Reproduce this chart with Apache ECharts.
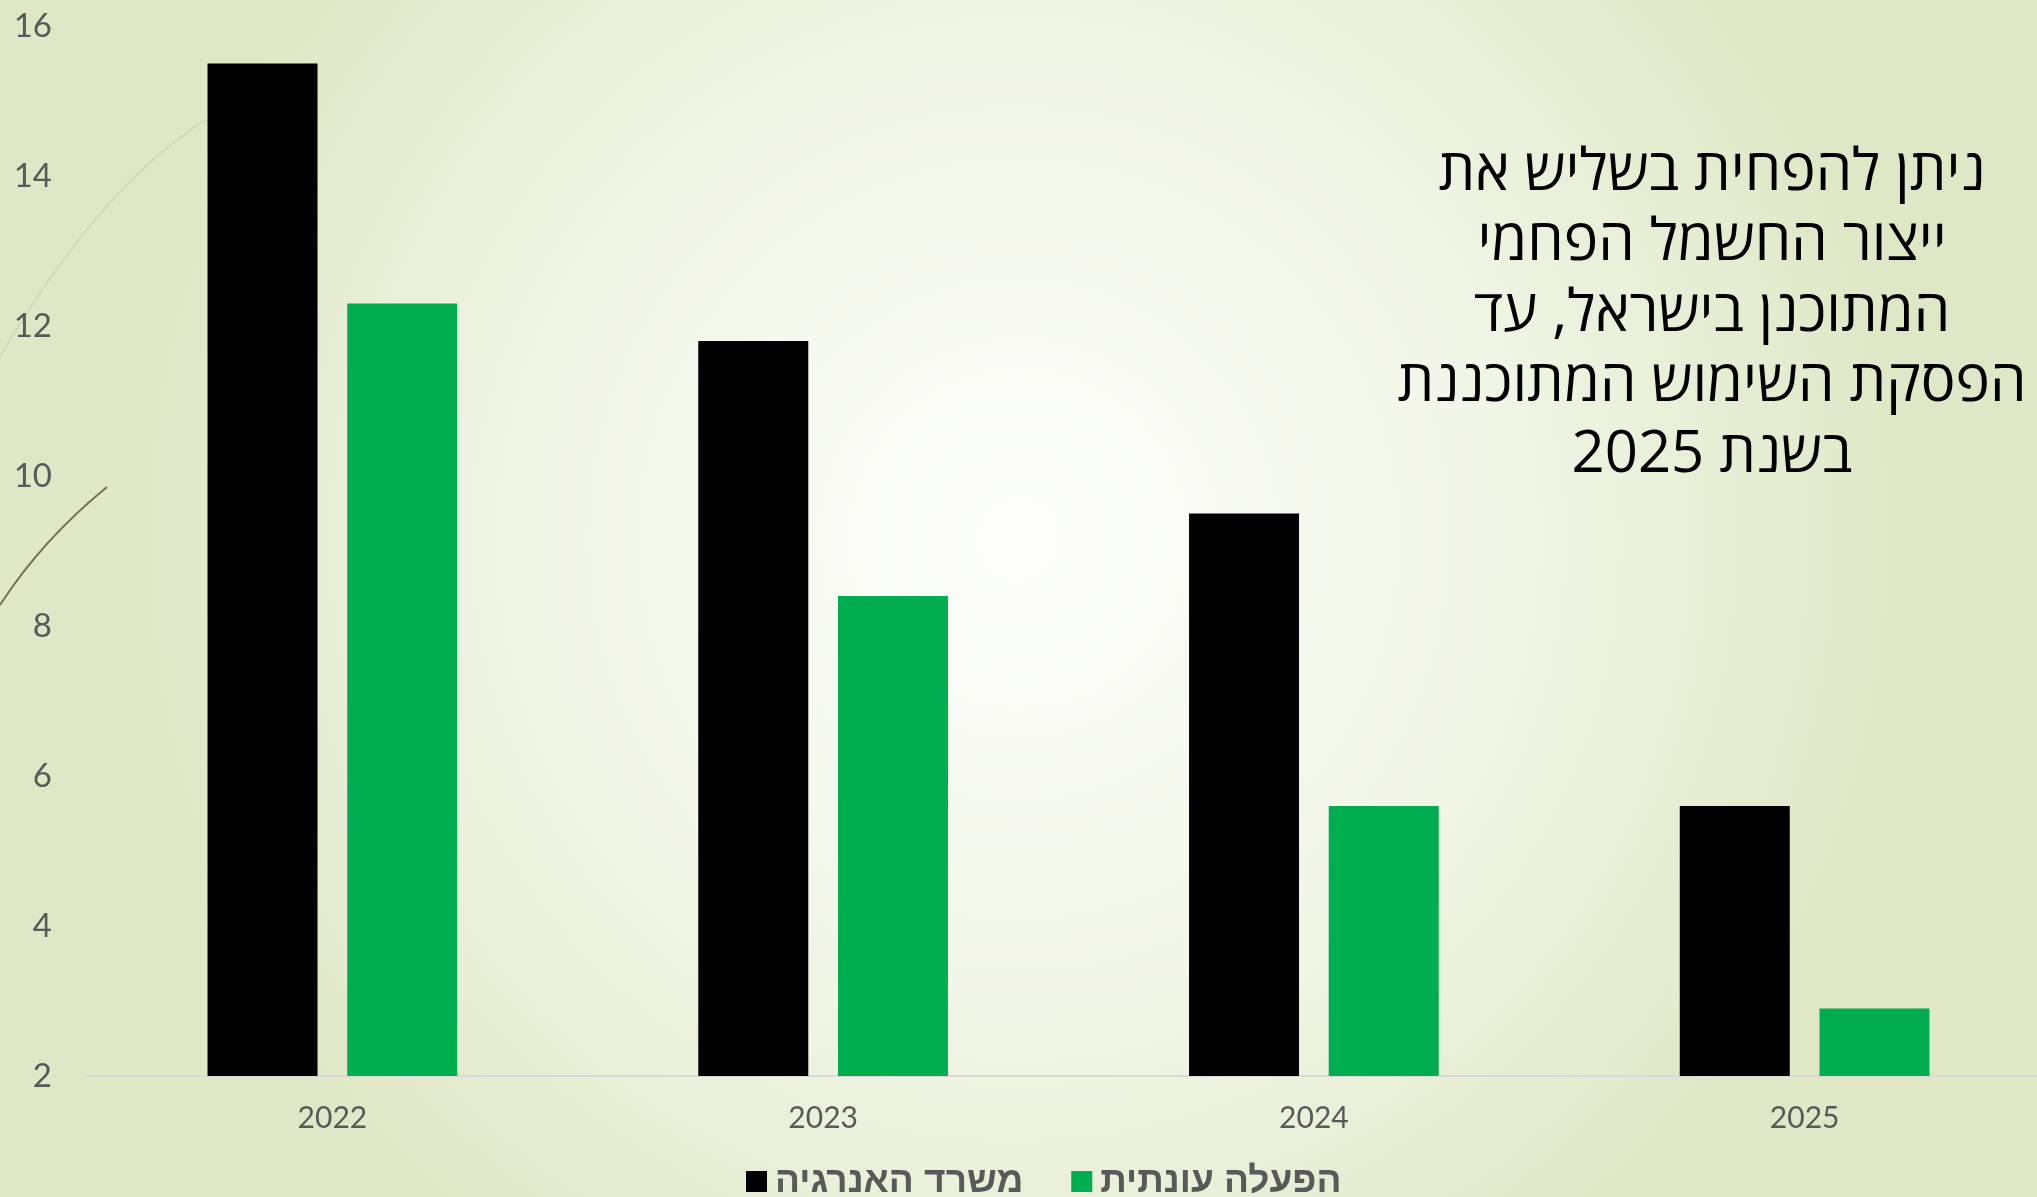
<!DOCTYPE html>
<html>
<head>
<meta charset="utf-8">
<script src="https://cdn.jsdelivr.net/npm/echarts@6/dist/echarts.min.js"></script>
<style>
html,body{margin:0;padding:0;background:#f1f4e6;}
#chart{width:2037px;height:1197px;}
</style>
</head>
<body>
<div id="chart"></div>
<script>
var categories = ['2022', '2023', '2024', '2025'];
var seriesNames = ['משרד האנרגיה', 'הפעלה עונתית'];
var energyMinistry = [15.5, 11.8, 9.5, 5.6];
var seasonalOperation = [12.3, 8.4, 5.6, 2.9];
var titleLines = ['ניתן להפחית בשליש את', 'ייצור החשמל הפחמי', 'המתוכנן בישראל, עד', 'הפסקת השימוש המתוכננת', 'בשנת 2025'];

var chart = echarts.init(document.getElementById('chart'));
chart.setOption({
  animation: false,
  backgroundColor: new echarts.graphic.RadialGradient(0.5, 0.45, 0.75, [
    {offset: 0, color: '#fdfefb'},
    {offset: 0.55, color: '#f1f5e6'},
    {offset: 1, color: '#dfe7c6'}
  ]),
  title: {
    text: titleLines.join('\n'),
    left: 1707,
    top: 133,
    textAlign: 'center',
    textStyle: {
      fontFamily: '"Open Sans", "DejaVu Sans", sans-serif',
      fontSize: 58,
      fontWeight: 'normal',
      color: '#000000',
      lineHeight: 70.5
    }
  },
  graphic: [
    {
      type: 'bezierCurve',
      shape: {x1: 0, y1: 357, x2: 205, y2: 120, cpx1: 97, cpy1: 190},
      style: {stroke: '#d3d8bd', lineWidth: 2, fill: null},
      silent: true, z: -1
    },
    {
      type: 'bezierCurve',
      shape: {x1: 0, y1: 605, x2: 107, y2: 487, cpx1: 42, cpy1: 540},
      style: {stroke: '#77704f', lineWidth: 2, fill: null},
      silent: true, z: -1
    }
  ],
  legend: {
    data: seriesNames,
    left: 741,
    top: 1158,
    itemWidth: 21,
    itemHeight: 21,
    itemGap: 48,
    icon: 'rect',
    textStyle: {
      fontFamily: '"Liberation Sans", Arial, sans-serif',
      fontSize: 37,
      fontWeight: 'bold',
      color: '#595959',
      padding: [0, 0, 0, 3]
    }
  },
  grid: {
    left: 87,
    top: 26,
    width: 1963,
    bottom: 121,
    containLabel: false,
    outerBoundsMode: 'none'
  },
  xAxis: {
    type: 'category',
    data: categories,
    axisLine: {lineStyle: {color: '#d9d9d9', width: 2}},
    axisTick: {show: false},
    axisLabel: {
      margin: 27,
      fontFamily: 'Lato, "Liberation Sans", sans-serif',
      fontSize: 30,
      color: '#595959'
    }
  },
  yAxis: {
    type: 'value',
    min: 2,
    max: 16,
    interval: 2,
    axisLine: {show: false},
    axisTick: {show: false},
    splitLine: {show: false},
    axisLabel: {
      margin: 35,
      fontFamily: 'Lato, "Liberation Sans", sans-serif',
      fontSize: 33,
      color: '#595959'
    }
  },
  series: [
    {
      name: seriesNames[0],
      type: 'bar',
      data: energyMinistry,
      barWidth: 110,
      barGap: '27%',
      itemStyle: {color: '#000000'}
    },
    {
      name: seriesNames[1],
      type: 'bar',
      data: seasonalOperation,
      barWidth: 110,
      barGap: '27%',
      itemStyle: {color: '#00ae50'}
    }
  ]
});
</script>
</body>
</html>
